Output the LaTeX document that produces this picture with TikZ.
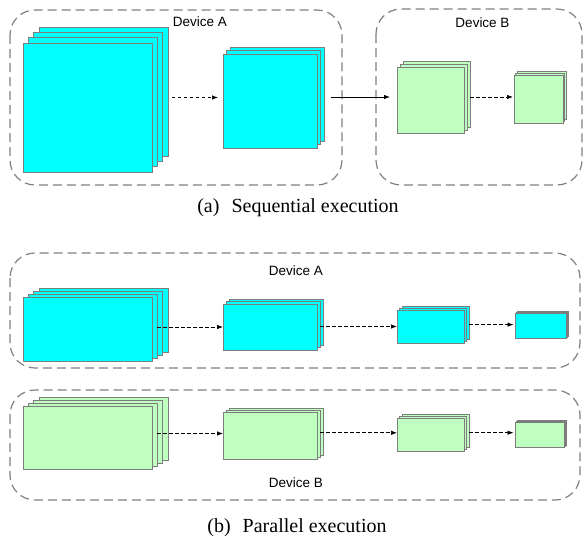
\documentclass[tikz,border=0pt]{standalone}
\usepackage{fontspec}
\setmainfont{Liberation Serif}
\setsansfont{Liberation Sans}
\usetikzlibrary{arrows.meta,calc}
\definecolor{cy}{RGB}{0,255,255}
\definecolor{gr}{RGB}{191,255,191}
\definecolor{edgegray}{RGB}{125,125,125}
\definecolor{contgray}{RGB}{128,128,128}
\tikzset{
  layer/.style={draw=edgegray, line width=0.8pt, rectangle, inner sep=0pt, outer sep=0pt},
  container/.style={draw=contgray, line width=1.2pt, dash pattern=on 9pt off 5pt, rounded corners=25pt},
  devlabel/.style={font=\sffamily\fontsize{13.5}{16}\selectfont, anchor=base, inner sep=0pt},
  caption/.style={font=\fontsize{20}{24}\selectfont, anchor=base, inner sep=0pt},
  darrow/.style={draw=black, line width=0.7pt, dash pattern=on 3.5pt off 2.5pt, -{Latex[length=6pt,width=4.5pt]}},
  sarrow/.style={draw=black, line width=0.8pt, -{Latex[length=6pt,width=4.5pt]}}
}
% name, x1, y1, x2, y2, layers, dx, dy, fill
\newcommand\mystack[9]{%
  \pgfmathsetmacro\stw{#4-#2}%
  \pgfmathsetmacro\sth{#5-#3}%
  \pgfmathtruncatemacro\nlast{#6-1}%
  \foreach \i in {\nlast,...,0}{%
    \node[layer, fill=#9, minimum width=\stw pt, minimum height=\sth pt] (#1-\i)
      at ({(#2+#4)/2+\i*#7},{(#3+#5)/2-\i*#8}) {};
  }%
}
\begin{document}
\begin{tikzpicture}[x=1pt,y=-1pt]
\useasboundingbox (0,0) rectangle (583,539);

% ---------- (a) Sequential execution ----------
\draw[container] (10,10) rectangle (342,185);
\draw[container] (376,9) rectangle (582,185);
\node[devlabel] (labA1) at (200,26) {Device A};
\node[devlabel] (labB1) at (482.5,27) {Device B};

\mystack{A1}{23}{43}{152}{172}{4}{5.3}{5.3}{cy}
\mystack{A2}{223}{54}{317}{148}{3}{3.5}{3.5}{cy}
\mystack{B1}{397}{67}{464}{133}{3}{3}{3}{gr}
\mystack{B2}{514}{75}{563}{123}{3}{1.8}{1.8}{gr}

\draw[darrow] ($(A1-3.east |- A2-1.west)+(4,0)$) -- ($(A2-0.west |- A2-1.west)+(-5,0)$);
\draw[sarrow] ($(A2-2.east |- B1-1.west)+(7,0)$) -- ($(B1-0.west |- B1-1.west)+(-7,0)$);
\draw[darrow] (B1-2.east |- B1-1.west) -- ($(B2-0.west |- B1-1.west)+(-1,0)$);

\node[caption] (capa) at (298,212) {(a)\hspace{0.6em}Sequential execution};

% ---------- (b) Parallel execution ----------
\draw[container] (10,253) rectangle (580,368);
\draw[container] (10,390) rectangle (580,500);
\node[devlabel] (labA2) at (296,275.5) {Device A};
\node[devlabel] (labB2) at (296,487) {Device B};

\mystack{C1}{23}{297}{152}{361}{4}{5.3}{3}{cy}
\mystack{C2}{223}{304}{317}{350}{3}{3}{2.4}{cy}
\mystack{C3}{397}{310}{464}{343}{3}{2.5}{1.7}{cy}
\mystack{C4}{515}{313}{566}{338}{3}{1.2}{0.9}{cy}

\draw[darrow] (C1-1.east |- C2-0.west) -- (C2-0.west);
\draw[darrow] (C2-1.east |- C3-0.west) -- (C3-0.west);
\draw[darrow] (C3-2.east |- C4-1.west) -- ($(C4-0.west |- C4-1.west)+(-1.5,0)$);

\mystack{G1}{23}{406}{152}{469}{4}{5.3}{3}{gr}
\mystack{G2}{223}{412}{317}{459}{3}{3}{2}{gr}
\mystack{G3}{397}{418}{464}{451}{3}{2.7}{1.7}{gr}
\mystack{G4}{515}{422}{564}{447}{3}{1.2}{0.9}{gr}

\draw[darrow] (G1-1.east |- G2-1.west) -- (G2-0.west |- G2-1.west);
\draw[darrow] (G2-1.east |- G3-1.west) -- (G3-0.west |- G3-1.west);
\draw[darrow] (G3-2.east |- G4-2.west) -- ($(G4-0.west |- G4-2.west)+(-1.5,0)$);

\node[caption] (capb) at (297,532) {(b)\hspace{0.6em}Parallel execution};
\end{tikzpicture}
\end{document}
